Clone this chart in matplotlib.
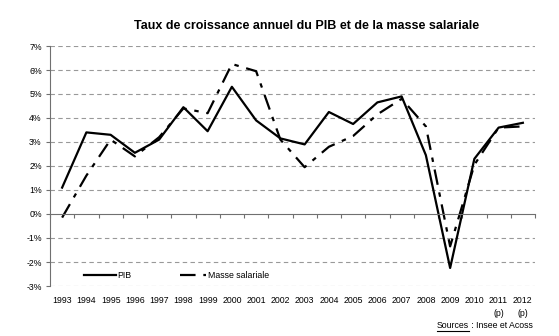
import matplotlib
matplotlib.use("Agg")
import matplotlib.pyplot as plt
import matplotlib.transforms as mtransforms
import numpy as np

years = ["1993", "1994", "1995", "1996", "1997", "1998", "1999", "2000", "2001", "2002",
         "2003", "2004", "2005", "2006", "2007", "2008", "2009", "2010", "2011", "2012"]
year_notes = ["", "", "", "", "", "", "", "", "", "", "", "", "", "", "", "", "", "", "(p)", "(p)"]
pib = [1.1, 3.4, 3.3, 2.55, 3.1, 4.45, 3.45, 5.3, 3.9, 3.15,
       2.9, 4.25, 3.75, 4.65, 4.9, 2.45, -2.25, 2.3, 3.6, 3.8]
masse = [-0.15, 1.6, 3.1, 2.4, 3.2, 4.4, 4.2, 6.25, 5.95, 3.1,
         1.95, 2.8, 3.25, 4.15, 4.8, 3.65, -1.35, 2.05, 3.6, 3.65]
yticks = [-3, -2, -1, 0, 1, 2, 3, 4, 5, 6, 7]

plt.rcParams['font.family'] = ['Liberation Sans', 'DejaVu Sans']

W, H = 559, 336
fig = plt.figure(figsize=(W / 100, H / 100), dpi=100)
ax = fig.add_axes([50 / W, 1 - 286 / H, (535 - 50) / W, (286 - 46) / H])

x = np.arange(len(years))
l1, = ax.plot(x, pib, color='black', lw=1.6, label='PIB')
l2, = ax.plot(x, masse, color='black', lw=1.6, dashes=(7, 3.5, 2, 3.5), label='Masse salariale')

ax.set_xlim(-0.5, len(years) - 0.5)
ax.set_ylim(-3, 7)

for v in yticks:
    if v != 0:
        ax.axhline(v, color='#999999', lw=0.8, ls=(0, (4, 3)), zorder=0)

ax.spines['top'].set_visible(False)
ax.spines['right'].set_visible(False)
ax.spines['left'].set_color('#707070')
ax.spines['left'].set_linewidth(0.8)
ax.spines['bottom'].set_position(('data', 0))
ax.spines['bottom'].set_color('#707070')
ax.spines['bottom'].set_linewidth(0.8)

ax.set_yticks(yticks)
ax.set_yticklabels([f"{v}%" for v in yticks])
ax.tick_params(axis='y', length=3, width=0.8, color='#707070', labelsize=6.3, pad=3)

ax.set_xticks(np.arange(-0.5, len(years), 1.0))
ax.set_xticklabels([])
ax.tick_params(axis='x', direction='out', length=3, width=0.8, color='#707070')

trans = mtransforms.blended_transform_factory(ax.transData, fig.transFigure)
for i, (yr, note) in enumerate(zip(years, year_notes)):
    ax.text(i, 1 - 300.5 / H, yr, transform=trans, ha='center', va='center', fontsize=6.3)
    if note:
        ax.text(i, 1 - 314 / H, note, transform=trans, ha='center', va='center', fontsize=6.3)

fig.text(307 / W, 1 - 26 / H, "Taux de croissance annuel du PIB et de la masse salariale",
         ha='center', va='center', fontsize=9, fontweight='bold')

src2 = fig.text(533 / W, 1 - 326 / H, " : Insee et Acoss", ha='right', va='center', fontsize=6.3)
fig.canvas.draw()
bb2 = src2.get_window_extent()
src1 = fig.text(bb2.x0 / W, 1 - 326 / H, "Sources", ha='right', va='center', fontsize=6.3)
fig.canvas.draw()
bb = src1.get_window_extent()
fig.add_artist(plt.Line2D([bb.x0 / W, bb.x1 / W], [(bb.y0 - 0.5) / H, (bb.y0 - 0.5) / H],
                          color='black', lw=0.8))

leg1 = ax.legend(handles=[l1], loc='center left', bbox_to_anchor=(84 / W, 1 - 275.5 / H),
                 bbox_transform=fig.transFigure, frameon=False, fontsize=6.3,
                 handlelength=3.6, handletextpad=0.25, borderaxespad=0, borderpad=0)
ax.add_artist(leg1)
ax.legend(handles=[l2], loc='center left', bbox_to_anchor=(180 / W, 1 - 275.5 / H),
          bbox_transform=fig.transFigure, frameon=False, fontsize=6.3,
          handlelength=3.0, handletextpad=0.25, borderaxespad=0, borderpad=0)

fig.savefig("out.png", dpi=100)
